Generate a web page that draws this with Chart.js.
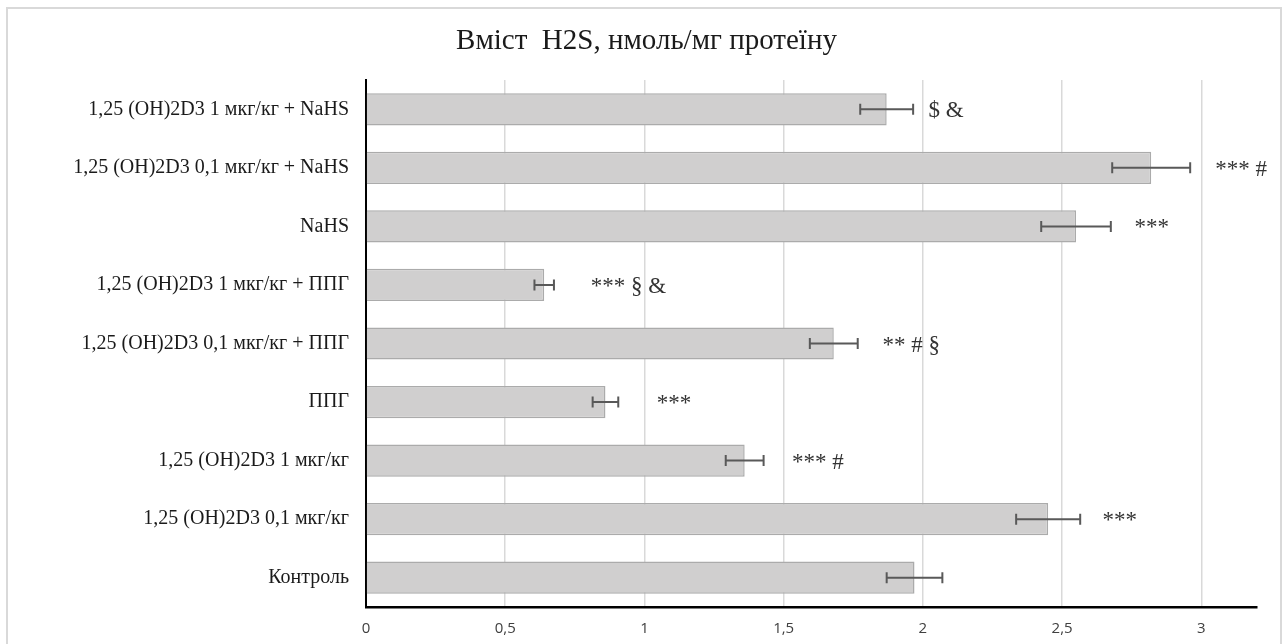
<!DOCTYPE html>
<html>
<head>
<meta charset="utf-8">
<script src="https://cdn.jsdelivr.net/npm/chart.js@4/dist/chart.umd.min.js"></script>
<style>
  html, body { margin: 0; padding: 0; background: #ffffff; }
  #c { display: block; }
</style>
</head>
<body>
<canvas id="c" width="1287" height="644"></canvas>
<script>
// ---- data ----
const categories = [
  "1,25 (OH)2D3 1 мкг/кг + NaHS",
  "1,25 (OH)2D3 0,1 мкг/кг + NaHS",
  "NaHS",
  "1,25 (OH)2D3 1 мкг/кг + ППГ",
  "1,25 (OH)2D3 0,1 мкг/кг + ППГ",
  "ППГ",
  "1,25 (OH)2D3 1 мкг/кг",
  "1,25 (OH)2D3 0,1 мкг/кг",
  "Контроль"
];
const values = [1.87, 2.82, 2.55, 0.64, 1.68, 0.86, 1.36, 2.45, 1.97];
const errors = [0.095, 0.14, 0.125, 0.035, 0.086, 0.046, 0.068, 0.115, 0.10];
const marks = ["$ &", "*** #", "***", "*** § &", "** # §", "***", "*** #", "***", ""];
const markAt = [2.02, 3.05, 2.76, 0.807, 1.855, 1.044, 1.53, 2.645, 0];
const xTicks = [0, 0.5, 1, 1.5, 2, 2.5, 3];
const titleText = "Вміст  H2S, нмоль/мг протеїну";

const SERIF = "'Liberation Serif', 'Times New Roman', serif";
const SANS = "'Open Sans', 'Liberation Sans', sans-serif";

const frame = {
  id: 'frame',
  beforeDraw(chart) {
    const ctx = chart.ctx;
    ctx.save();
    ctx.fillStyle = '#ffffff';
    ctx.fillRect(0, 0, chart.width, chart.height);
    ctx.strokeStyle = '#d9d9d9';
    ctx.lineWidth = 2;
    ctx.strokeRect(7, 8, 1274, 700);
    ctx.restore();
  }
};

const errAndMarks = {
  id: 'errAndMarks',
  afterDatasetsDraw(chart) {
    const ctx = chart.ctx;
    const xs = chart.scales.x, ys = chart.scales.y;
    ctx.save();
    values.forEach((v, i) => {
      const y = ys.getPixelForValue(i);
      const x1 = xs.getPixelForValue(v - errors[i]);
      const x2 = xs.getPixelForValue(v + errors[i]);
      ctx.strokeStyle = '#595959';
      ctx.lineWidth = 2;
      ctx.beginPath();
      ctx.moveTo(x1, y); ctx.lineTo(x2, y);
      ctx.moveTo(x1, y - 5.5); ctx.lineTo(x1, y + 5.5);
      ctx.moveTo(x2, y - 5.5); ctx.lineTo(x2, y + 5.5);
      ctx.stroke();
      if (marks[i]) {
        ctx.fillStyle = '#333333';
        ctx.font = "23px " + SERIF;
        ctx.textAlign = 'left';
        ctx.textBaseline = 'middle';
        ctx.fillText(marks[i], xs.getPixelForValue(markAt[i]), y + 2);
      }
    });
    ctx.restore();
  }
};

new Chart(document.getElementById('c'), {
  type: 'bar',
  data: {
    labels: categories,
    datasets: [{
      data: values,
      backgroundColor: '#d0cfcf',
      borderColor: '#ababab',
      borderWidth: 1.5,
      barPercentage: 0.55,
      categoryPercentage: 1.0
    }]
  },
  plugins: [frame, errAndMarks],
  options: {
    indexAxis: 'y',
    responsive: false,
    animation: false,
    devicePixelRatio: 1,
    layout: { padding: { left: 36, right: 30, top: 0, bottom: 0 } },
    plugins: {
      legend: { display: false },
      tooltip: { enabled: false },
      title: {
        display: true,
        text: titleText,
        color: '#1a1a1a',
        font: { family: SERIF, size: 29, weight: 'normal', lineHeight: 1.2 },
        padding: { top: 24, bottom: 21.2 }
      }
    },
    scales: {
      x: {
        type: 'linear',
        min: 0,
        max: 3.2,
        afterBuildTicks(scale) {
          scale.ticks = xTicks.map(v => ({ value: v }));
        },
        afterFit(scale) { scale.height = 37; },
        grid: { color: '#d9d9d9', lineWidth: 1.5, drawTicks: false },
        border: { color: '#000000', width: 2.5 },
        ticks: {
          color: '#404040',
          font: { family: SANS, size: 15 },
          padding: 13,
          callback: v => String(v).replace('.', ',')
        }
      },
      y: {
        type: 'category',
        afterFit(scale) { scale.width = 330; },
        grid: { display: false, drawTicks: false },
        border: { color: '#000000', width: 2 },
        ticks: {
          color: '#1a1a1a',
          font: { family: SERIF, size: 20 },
          padding: 17,
          autoSkip: false
        }
      }
    }
  }
});
</script>
</body>
</html>
